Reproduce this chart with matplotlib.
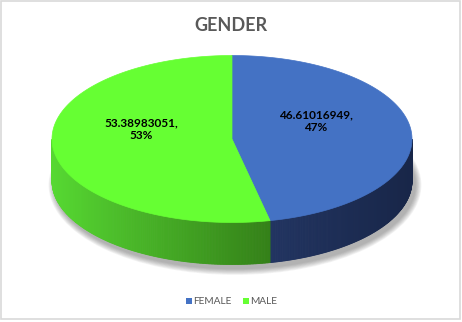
import numpy as np
import matplotlib
matplotlib.use("Agg")
import matplotlib.pyplot as plt
from matplotlib.patches import Polygon, Rectangle, Ellipse

# ---- data ----
title = "GENDER"
categories = ["FEMALE", "MALE"]
values = [46.61016949, 53.38983051]
pct_labels = ["47%", "53%"]

# ---- style ----
top_colors = ["#4472C4", "#66FF33"]
side_left = [(36, 56, 104), (86, 216, 50)]
side_right = [(24, 38, 72), (52, 128, 24)]
legend_colors = ["#4472C4", "#66FF33"]

W, H = 462, 322
fig = plt.figure(figsize=(W / 100, H / 100), dpi=100)
ax = fig.add_axes([0, 0, 1, 1])
ax.set_xlim(0, W)
ax.set_ylim(H, 0)
ax.axis("off")

plt.rcParams["font.family"] = ["Lato", "DejaVu Sans"]

# frame
ax.add_patch(Rectangle((0.5, 0.5), 459.5, 318.5, fill=False, edgecolor="#D9D9D9", lw=1.2))

cx, cy, a, b, depth = 232, 139, 180, 83.5, 42


def pt(t):
    r = np.radians(t)
    return cx + a * np.cos(r), cy - b * np.sin(r)


total = sum(values)
angles = [90]
for v in values:
    angles.append(angles[-1] - 360 * v / total)

# shadow
for k in range(8, 0, -1):
    ax.add_patch(Ellipse((cx + 3, cy + depth + 4), 2 * (a + k * 0.8), 2 * (b + k * 0.8),
                         facecolor="#404040", edgecolor="none", alpha=0.06, zorder=1))

# sides
for i in range(len(values)):
    t0, t1 = angles[i], angles[i + 1]
    ts = np.linspace(t0, t1, 400)
    for j in range(len(ts) - 1):
        tm = 0.5 * (ts[j] + ts[j + 1])
        if np.sin(np.radians(tm)) >= 0:
            continue
        x0, y0 = pt(ts[j])
        x1, y1 = pt(ts[j + 1])
        xm = (x0 + x1) / 2
        if i == 1:
            f = (xm - (cx - a)) / (pt(t0)[0] - (cx - a))
        else:
            f = (xm - pt(t0)[0]) / (cx + a - pt(t0)[0])
        f = min(max(f, 0), 1)
        c = np.array(side_left[i]) * (1 - f) + np.array(side_right[i]) * f
        c = tuple(c / 255)
        ax.add_patch(Polygon([(x0, y0), (x1, y1), (x1, y1 + depth), (x0, y0 + depth)],
                             closed=True, facecolor=c, edgecolor=c, lw=0.6, zorder=2))

# tops
for i in range(len(values)):
    ts = np.linspace(angles[i], angles[i + 1], 400)
    pts = [(cx, cy)] + [pt(t) for t in ts]
    ax.add_patch(Polygon(pts, closed=True, facecolor=top_colors[i], edgecolor=top_colors[i],
                         lw=0.5, zorder=3))

# labels
label_pos = [(316, 121), (141, 129)]
for i in range(len(values)):
    ax.text(label_pos[i][0], label_pos[i][1], f"{values[i]},\n{pct_labels[i]}",
            ha="center", va="center", fontsize=8.5, fontweight="bold", color="#000000",
            linespacing=1.2, zorder=5)

# title
ax.text(231, 25, title, ha="center", va="center", fontsize=13, fontweight="bold", color="#595959")

# legend
leg_y = 301
items = [(186, categories[0]), (243, categories[1])]
for (x, name), col in zip(items, legend_colors):
    ax.add_patch(Rectangle((x, leg_y - 3), 6, 6, facecolor=col, edgecolor="none"))
    ax.text(x + 7, leg_y, name, ha="left", va="center", fontsize=7.3, color="#595959")

fig.savefig("out.png", dpi=100)
